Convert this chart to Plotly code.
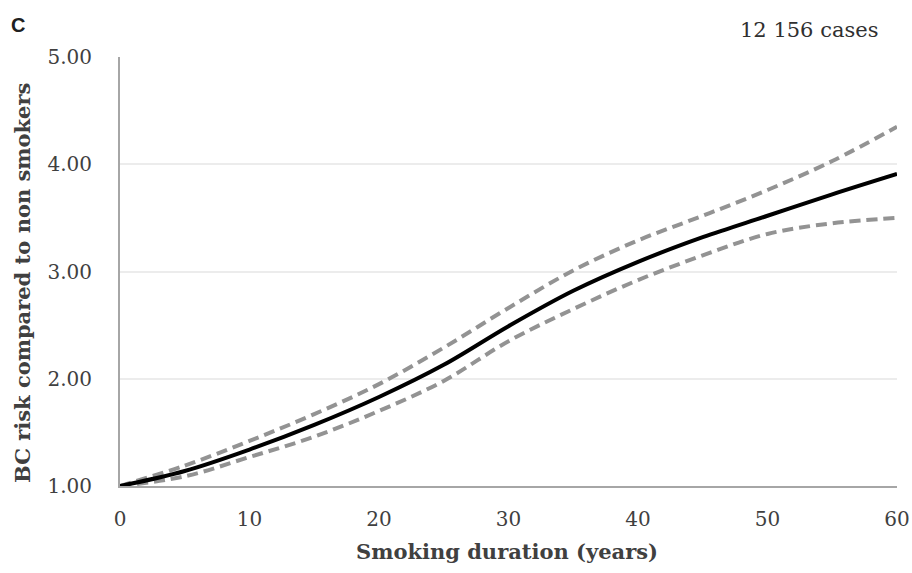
import plotly.graph_objects as go

years = [0, 5, 10, 15, 20, 25, 30, 35, 40, 45, 50, 55, 60]
risk = [1.00, 1.14, 1.34, 1.57, 1.83, 2.13, 2.49, 2.82, 3.09, 3.32, 3.52, 3.72, 3.91]
upper = [1.00, 1.19, 1.42, 1.67, 1.95, 2.29, 2.66, 3.01, 3.29, 3.52, 3.76, 4.03, 4.35]
lower = [1.00, 1.09, 1.27, 1.46, 1.70, 1.98, 2.35, 2.65, 2.92, 3.15, 3.35, 3.45, 3.50]

y_ticks = [1, 2, 3, 4, 5]
y_tick_labels = ["1.00", "2.00", "3.00", "4.00", "5.00"]
x_ticks = [0, 10, 20, 30, 40, 50, 60]

W, H = 912, 573
L, R, T, B = 120, 15, 57, 87
pw, ph = W - L - R, H - T - B


def px_x(v):
    return (v - L) / pw


def px_y(v):
    return (H - B - v) / ph


fig = go.Figure()
dash_line = dict(color="#939393", width=4, dash="11px,6px", shape="spline")
fig.add_trace(go.Scatter(x=years, y=upper, mode="lines", line=dash_line, showlegend=False))
fig.add_trace(go.Scatter(x=years, y=lower, mode="lines", line=dash_line, showlegend=False))
fig.add_trace(go.Scatter(x=years, y=risk, mode="lines",
                         line=dict(color="#000000", width=4, shape="spline"), showlegend=False))

serif = "DejaVu Serif"
fig.update_layout(
    width=W, height=H,
    margin=dict(l=L, r=R, t=T, b=B),
    plot_bgcolor="white", paper_bgcolor="white",
    xaxis=dict(
        range=[0, 60], tickvals=x_ticks, showgrid=False, zeroline=False, automargin=False,
        showline=True, linecolor="#a6a6a6", linewidth=2,
        ticks="outside", ticklen=14, tickcolor="rgba(0,0,0,0)",
        tickfont=dict(family=serif, size=20, color="#404040"),
    ),
    yaxis=dict(
        range=[1, 5], tickvals=y_ticks, ticktext=y_tick_labels, automargin=False,
        showgrid=True, gridcolor="#ececec", gridwidth=2, zeroline=False,
        showline=True, linecolor="#a6a6a6", linewidth=2,
        ticks="outside", ticklen=22, tickcolor="rgba(0,0,0,0)",
        tickfont=dict(family=serif, size=20, color="#404040"),
    ),
    annotations=[
        dict(text="<b>C</b>", x=px_x(9), y=px_y(25), xanchor="left", yanchor="middle",
             xref="paper", yref="paper", showarrow=False,
             font=dict(family="Liberation Sans", size=20, color="#202020")),
        dict(text="12 156 cases", x=px_x(880), y=px_y(30), xanchor="right", yanchor="middle",
             xref="paper", yref="paper", showarrow=False,
             font=dict(family=serif, size=21, color="#303030")),
        dict(text="<b>Smoking duration (years)</b>", x=px_x(507), y=px_y(551),
             xanchor="center", yanchor="middle", xref="paper", yref="paper", showarrow=False,
             font=dict(family=serif, size=21, color="#404040")),
        dict(text="<b>BC risk compared to non smokers</b>", x=px_x(22), y=px_y(283),
             xanchor="center", yanchor="middle", textangle=-90,
             xref="paper", yref="paper", showarrow=False,
             font=dict(family=serif, size=21, color="#404040")),
    ],
)

fig.write_html("out.html", config={"displayModeBar": False},
               post_script="document.body.style.margin='0';")
